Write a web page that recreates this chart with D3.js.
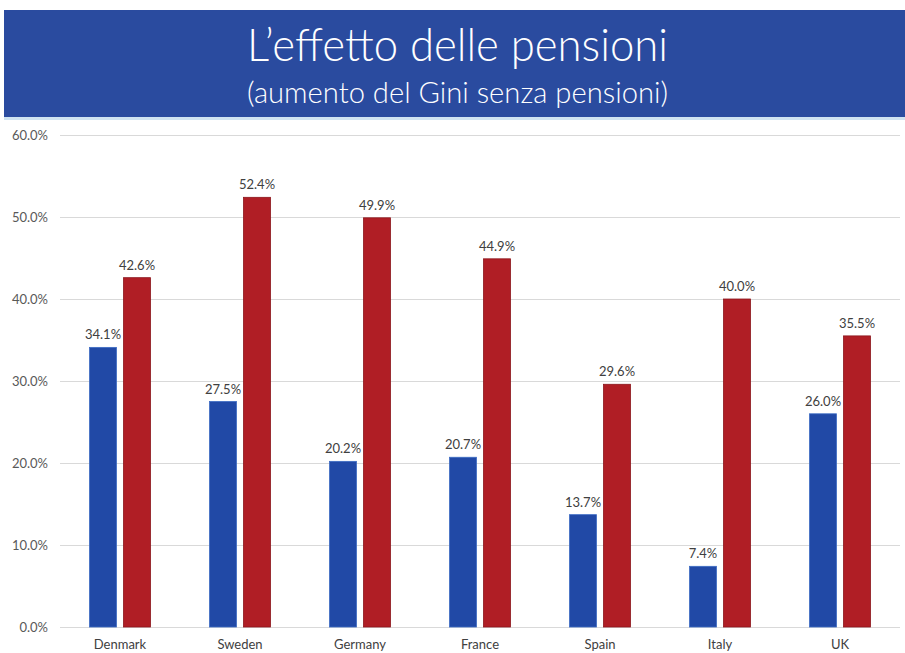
<!DOCTYPE html>
<html>
<head>
<meta charset="utf-8">
<script src="https://cdn.jsdelivr.net/npm/d3@7"></script>
<style>
  html, body { margin: 0; padding: 0; background: #ffffff; }
  svg { display: block; }
</style>
</head>
<body>
<svg id="chart" width="905" height="653"></svg>
<script>
// Gini increase without pensions, by country
const countries = ["Denmark", "Sweden", "Germany", "France", "Spain", "Italy", "UK"];
const withPensions = [34.1, 27.5, 20.2, 20.7, 13.7, 7.4, 26.0];
const withoutPensions = [42.6, 52.4, 49.9, 44.9, 29.6, 40.0, 35.5];
const seriesKeys = ["with", "without"];
const yTicks = [0, 10, 20, 30, 40, 50, 60];

const svg = d3.select("#chart");
const W = 905, H = 653;

// Header banner
svg.append("rect")
  .attr("x", 4).attr("y", 10).attr("width", W - 4).attr("height", 107)
  .attr("fill", "#2a4b9f");
svg.append("rect")
  .attr("x", 4).attr("y", 117).attr("width", W - 4).attr("height", 3)
  .attr("fill", "#cfe3f2");

svg.append("text")
  .attr("x", 247).attr("y", 61)
  .attr("textLength", 421)
  .attr("lengthAdjust", "spacingAndGlyphs")
  .attr("fill", "#ffffff")
  .attr("font-family", "Lato, sans-serif")
  .attr("font-weight", 300)
  .attr("font-size", 45)
  .text("L’effetto delle pensioni");

svg.append("text")
  .attr("x", 247).attr("y", 103)
  .attr("textLength", 421)
  .attr("lengthAdjust", "spacingAndGlyphs")
  .attr("fill", "#ffffff")
  .attr("font-family", "Lato, sans-serif")
  .attr("font-weight", 300)
  .attr("font-size", 30)
  .text("(aumento del Gini senza pensioni)");

// Scales
const x0 = d3.scaleBand().domain(countries).range([60, 900]).padding(0);
const bw = x0.bandwidth();
const x1 = d3.scaleBand().domain(seriesKeys)
  .range([bw / 2 - 30.5, bw / 2 + 30.5])
  .paddingInner(7 / 34).paddingOuter(0);
const y = d3.scaleLinear().domain([0, 60]).range([627, 135]);

// Gridlines
const grid = svg.append("g")
  .attr("transform", "translate(60,0)")
  .call(d3.axisLeft(y).tickValues(yTicks).tickSize(-(900 - 60)).tickFormat(""));
grid.select(".domain").remove();
grid.selectAll(".tick line").attr("stroke", "#d9d9d9").attr("stroke-width", 1);

// Y-axis labels
const yAxis = svg.append("g")
  .attr("transform", "translate(48,0)")
  .call(d3.axisLeft(y).tickValues(yTicks).tickSize(0).tickPadding(0)
    .tickFormat(d => d3.format(".1f")(d) + "%"));
yAxis.select(".domain").remove();
yAxis.selectAll("text")
  .attr("fill", "#595959")
  .attr("font-family", "Lato, sans-serif")
  .attr("font-size", 13);

// Bars
const rows = countries.map((c, i) => ({
  country: c,
  values: [
    { key: "with", value: withPensions[i] },
    { key: "without", value: withoutPensions[i] }
  ]
}));
const fill = { with: "#2149a6", without: "#b01e25" };
const stroke = { with: "#3d6cc4", without: "#8c161c" };

const groups = svg.append("g").selectAll("g")
  .data(rows).join("g")
  .attr("transform", d => `translate(${x0(d.country)},0)`);

groups.selectAll("rect")
  .data(d => d.values).join("rect")
  .attr("x", d => x1(d.key))
  .attr("y", d => y(d.value))
  .attr("width", x1.bandwidth())
  .attr("height", d => y(0) - y(d.value))
  .attr("fill", d => fill[d.key])
  .attr("stroke", d => stroke[d.key])
  .attr("stroke-width", 0.8);

groups.selectAll("text.val")
  .data(d => d.values).join("text")
  .attr("class", "val")
  .attr("x", d => x1(d.key) + x1.bandwidth() / 2)
  .attr("y", d => y(d.value) - 8)
  .attr("text-anchor", "middle")
  .attr("fill", "#404040")
  .attr("font-family", "Lato, sans-serif")
  .attr("font-size", 13)
  .text(d => d3.format(".1f")(d.value) + "%");

// Category labels
const xAxis = svg.append("g")
  .attr("transform", "translate(0,627)")
  .call(d3.axisBottom(x0).tickSize(0).tickPadding(0));
xAxis.select(".domain").remove();
xAxis.selectAll("text")
  .attr("dy", 0)
  .attr("y", 22)
  .attr("fill", "#404040")
  .attr("font-family", "Lato, sans-serif")
  .attr("font-size", 13);
</script>
</body>
</html>
